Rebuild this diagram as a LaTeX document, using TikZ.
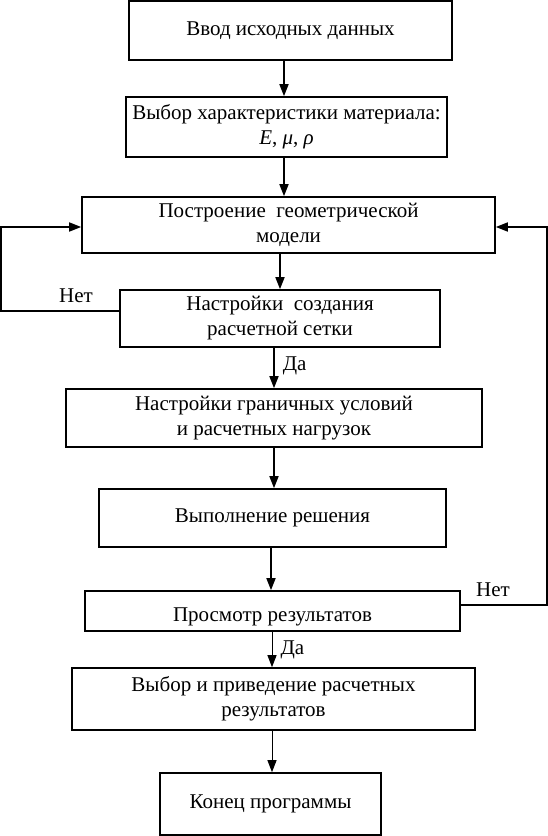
\documentclass[tikz,border=0pt]{standalone}
\usepackage{fontspec}
\setmainfont{Liberation Serif}
\usetikzlibrary{arrows.meta}
\begin{document}
\begin{tikzpicture}[x=1pt,y=-1pt,
  box/.style={draw,line width=1.6pt,rectangle,inner sep=0pt,align=center,font=\fontsize{21}{25}\selectfont},
  arr/.style={line width=1.6pt,-{Triangle[length=12pt,width=9pt]}},
  thinarr/.style={line width=1pt,-{Triangle[length=12pt,width=9pt]}},
  lbl/.style={font=\fontsize{21}{25}\selectfont,inner sep=0pt}]
\useasboundingbox (0,0) rectangle (548,836);
\node[box,minimum width=323pt,minimum height=59pt] (b1) at (290.5,30.5) {Ввод исходных данных};
\node[box,minimum width=321pt,minimum height=60pt] (b2) at (286.5,127) {Выбор характеристики материала:\\ \textit{E}, \textit{μ}, \textit{ρ}};
\node[box,minimum width=413pt,minimum height=56pt] (b3) at (288.5,225) {Построение\ \ геометрической\\ модели};
\node[box,minimum width=320pt,minimum height=57pt] (b4) at (280,318.5) {Настройки\ \ создания\\ расчетной сетки};
\node[box,minimum width=416pt,minimum height=58pt] (b5) at (274,418) {Настройки граничных условий\\ и расчетных нагрузок};
\node[box,minimum width=347pt,minimum height=58pt] (b6) at (272.5,518) {Выполнение решения};
\node[box,minimum width=375pt,minimum height=40pt] (b7) at (272.5,611) {};
\node[lbl] (t7) at (272.5,617) {Просмотр результатов};
\node[box,minimum width=403pt,minimum height=62pt] (b8) at (273.5,699) {Выбор и приведение расчетных\\ результатов};
\node[box,minimum width=221pt,minimum height=62pt] (b9) at (270.5,804) {Конец программы};
% main arrows
\draw[arr] ([xshift=-6.5pt]b1.south) -- ([xshift=-6.5pt]b1.south |- b2.north);
\draw[arr] ([xshift=-2.5pt]b2.south) -- ([xshift=-2.5pt]b2.south |- b3.north);
\draw[arr] ([xshift=-8.5pt]b3.south) -- ([xshift=-8.5pt]b3.south |- b4.north);
\draw[arr] ([xshift=-6pt]b4.south) -- ([xshift=-6pt]b4.south |- b5.north) node[lbl,pos=0.45,right=8pt] {Да};
\draw[arr] (b5.south) -- (b5.south |- b6.north);
\draw[arr] ([xshift=-1.5pt]b6.south) -- ([xshift=-1.5pt]b6.south |- b7.north);
\draw[thinarr] ([xshift=-0.5pt]b7.south) -- ([xshift=-0.5pt]b7.south |- b8.north) node[lbl,pos=0.5,right=8pt] {Да};
\draw[thinarr] ([xshift=-1.5pt]b8.south) -- ([xshift=-1.5pt]b8.south |- b9.north);
% feedback loops
\coordinate (lc) at ([yshift=7.5pt]b4.west);
\draw[arr] (lc) -- ++(-118,0) coordinate (lcorner) |- ([yshift=-2pt]b3.west);
\node[lbl] (nl) at (76,296) {Нет};
\coordinate (rc) at ([yshift=6pt]b7.east);
\draw[arr] (rc) -- ++(86,0) |- ([yshift=-2pt]b3.east);
\node[lbl] (nr) at (493,590) {Нет};
\end{tikzpicture}
\end{document}
